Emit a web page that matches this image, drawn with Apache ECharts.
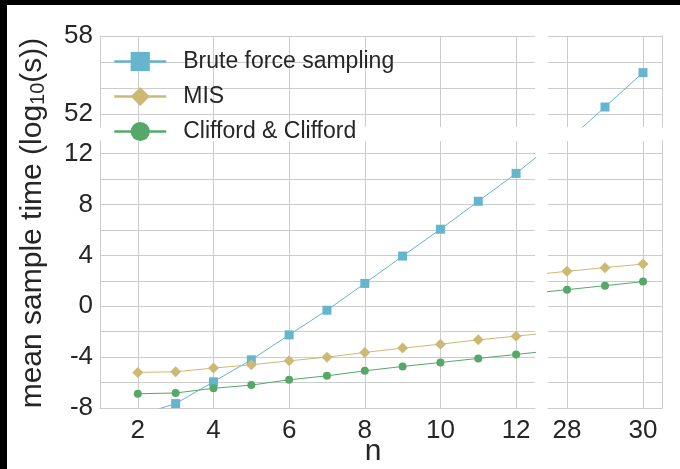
<!DOCTYPE html>
<html><head><meta charset="utf-8">
<script src="https://cdn.jsdelivr.net/npm/echarts@6/dist/echarts.min.js"></script>
<style>html,body{margin:0;padding:0;background:#fff}#c{width:680px;height:469px}</style>
</head><body><div id="c"></div>
<script>
// ---- data ----
const nValues   = [2, 3, 4, 5, 6, 7, 8, 9, 10, 11, 12, 13, 27, 28, 29, 30];
const bruteForce = [-8.6, -7.65, -5.94, -4.21, -2.25, -0.31, 1.80, 3.95, 6.06, 8.26, 10.45, 12.85, 47.3, 49.9, 52.54, 55.18];
const misValues  = [-5.20, -5.15, -4.86, -4.60, -4.29, -4.00, -3.63, -3.29, -2.98, -2.64, -2.35, -2.05, 2.45, 2.75, 3.04, 3.32];
const cliffordValues = [-6.88, -6.82, -6.45, -6.20, -5.78, -5.47, -5.08, -4.73, -4.42, -4.10, -3.79, -3.47, 1.00, 1.31, 1.62, 1.94];
const seriesNames = ['Brute force sampling', 'MIS', 'Clifford & Clifford'];
const xTicksLeft  = [2, 4, 6, 8, 10, 12];
const xTicksRight = [28, 30];
const yGridBottom   = [-8, -6, -4, -2, 0, 2, 4, 6, 8, 10, 12];
const yLabelsBottom = [-8, -4, 0, 4, 8, 12];
const yGridTop   = [52, 54, 56, 58];
const yLabelsTop = [52, 58];
const xTitle = 'n';

// ---- styling ----
const FONT = "'Liberation Sans', Arial, sans-serif";
const GRIDC = '#cccccc';
const TXT = '#262626';
const colors = ['#64B5CD', '#CCB974', '#55A868'];
const symbols = ['rect', 'diamond', 'circle'];
const symSizes = [9, 11, 8];
const valueSets = [bruteForce, misValues, cliffordValues];

const panels = [
  {left: 100, top: 36,  width: 435, height: 91,  xr: [1, 12.5],   yr: [51, 58], xt: xTicksLeft,  yg: yGridTop,    yl: yLabelsTop,    isLeft: true,  isBottom: false},
  {left: 548, top: 36,  width: 114, height: 91,  xr: [27.5, 30.5], yr: [51, 58], xt: xTicksRight, yg: yGridTop,    yl: yLabelsTop,    isLeft: false, isBottom: false},
  {left: 100, top: 141, width: 435, height: 267, xr: [1, 12.5],   yr: [-8, 13], xt: xTicksLeft,  yg: yGridBottom, yl: yLabelsBottom, isLeft: true,  isBottom: true},
  {left: 548, top: 141, width: 114, height: 267, xr: [27.5, 30.5], yr: [-8, 13], xt: xTicksRight, yg: yGridBottom, yl: yLabelsBottom, isLeft: false, isBottom: true}
];

const grid = [], xAxis = [], yAxis = [], series = [];
panels.forEach((p, i) => {
  grid.push({left: p.left, top: p.top, width: p.width, height: p.height, containLabel: false});
  xAxis.push({
    gridIndex: i, type: 'value', min: p.xr[0], max: p.xr[1],
    position: p.isBottom ? 'bottom' : 'top',
    axisLine: {show: p.isBottom, onZero: false, lineStyle: {color: GRIDC, width: 1}},
    axisTick: {show: false, customValues: p.xt},
    axisLabel: {show: p.isBottom, customValues: p.xt, fontSize: 26, color: TXT, fontFamily: FONT, margin: 10},
    splitLine: {show: true, lineStyle: {color: GRIDC, width: 1}}
  });
  yAxis.push({
    gridIndex: i, type: 'value', min: p.yr[0], max: p.yr[1],
    position: p.isLeft ? 'left' : 'right',
    axisLine: {show: true, onZero: false, lineStyle: {color: GRIDC, width: 1}},
    axisTick: {show: false, customValues: p.yg},
    axisLabel: {show: p.isLeft, customValues: p.yl, fontSize: 26, color: TXT, fontFamily: FONT, margin: 7},
    splitLine: {show: true, lineStyle: {color: GRIDC, width: 1}}
  });
  valueSets.forEach((vals, k) => {
    series.push({
      name: seriesNames[k], type: 'line', xAxisIndex: i, yAxisIndex: i,
      data: nValues.map((n, j) => [n, vals[j]]),
      symbol: symbols[k], symbolSize: symSizes[k], showSymbol: true,
      color: colors[k],
      lineStyle: {width: 1, color: colors[k]},
      itemStyle: {color: colors[k]},
      clip: true, animation: false, z: 3 + k
    });
  });
});

const chart = echarts.init(document.getElementById('c'), null, {renderer: 'canvas'});
chart.setOption({
  backgroundColor: '#ffffff',
  animation: false,
  grid, xAxis, yAxis, series,
  legend: {
    data: seriesNames.map(name => ({name, lineStyle: {width: 2.5}})),
    orient: 'vertical', left: 108, top: 45,
    itemWidth: 52, itemHeight: 24, itemGap: 12,
    lineStyle: {width: 2.5},
    textStyle: {fontSize: 23, color: TXT, fontFamily: FONT, padding: [0, 0, 0, 12]}
  },
  graphic: [
    {type: 'rect', shape: {x: 0, y: 0, width: 680, height: 5}, style: {fill: '#000'}, z: 100},
    {type: 'rect', shape: {x: 0, y: 0, width: 7, height: 469}, style: {fill: '#000'}, z: 100},
    {type: 'text', x: 33, y: 223, rotation: Math.PI / 2,
     style: {text: '{a|mean sample time (log}{s|10}{a|(s))}', align: 'center', verticalAlign: 'middle',
       rich: {a: {fontSize: 30, fontFamily: FONT, fill: TXT, color: TXT}, s: {fontSize: 20, fontFamily: FONT, fill: TXT, color: TXT, verticalAlign: 'bottom'}}}},
    {type: 'text', x: 373, y: 452,
     style: {text: xTitle, fontSize: 30, fontFamily: FONT, fill: TXT, align: 'center', verticalAlign: 'middle'}}
  ]
});
</script></body></html>
